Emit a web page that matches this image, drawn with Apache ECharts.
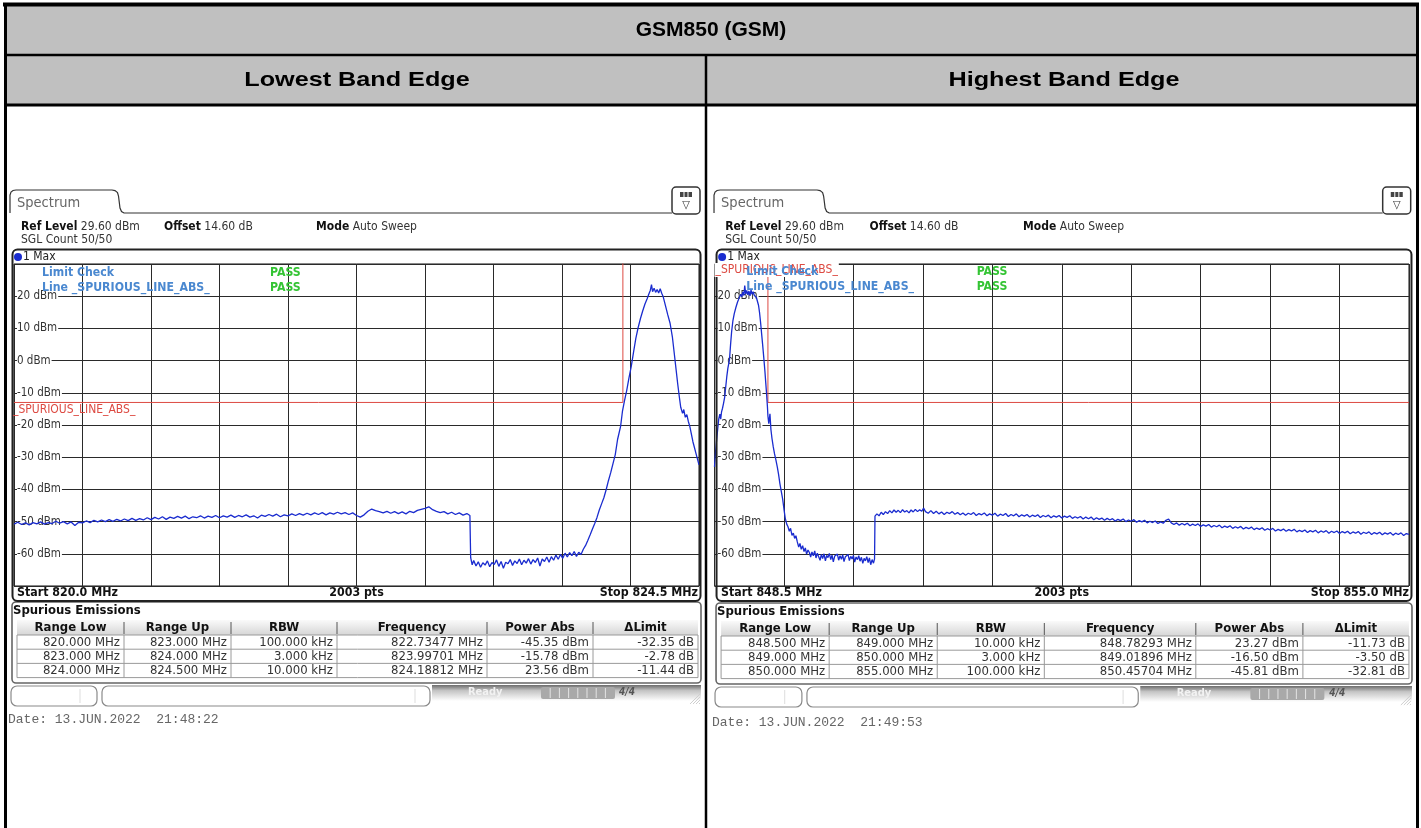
<!DOCTYPE html>
<html><head><meta charset="utf-8">
<script src="https://cdn.jsdelivr.net/npm/echarts@6/dist/echarts.min.js"></script>
<style>html,body{margin:0;padding:0;background:#fff;overflow:hidden}#c{width:1421px;height:828px}</style>
</head><body><div id="c"></div>
<script>
// ---------------- data ----------------
const mainTitle = 'GSM850 (GSM)';
const panelTitles = ['Lowest Band Edge', 'Highest Band Edge'];
const yTickValues = [20, 10, 0, -10, -20, -30, -40, -50, -60];
const yTickLabels = ['20 dBm', '10 dBm', '0 dBm', '-10 dBm', '-20 dBm', '-30 dBm', '-40 dBm', '-50 dBm', '-60 dBm'];
const lowRange = [820.0, 824.5];
const highRange = [848.5, 855.0];
const headerInfo = ['Ref Level', '29.60 dBm', 'Offset', '14.60 dB', 'Mode', 'Auto Sweep', 'SGL Count 50/50'];
const limitTexts = ['Limit Check', 'Line _SPURIOUS_LINE_ABS_', 'PASS', '_SPURIOUS_LINE_ABS_'];
const lowFooter = ['Start 820.0 MHz', '2003 pts', 'Stop 824.5 MHz'];
const highFooter = ['Start 848.5 MHz', '2003 pts', 'Stop 855.0 MHz'];
const tableHeaders = ['Range Low', 'Range Up', 'RBW', 'Frequency', 'Power Abs', '\u0394Limit'];
const lowTable = [
  ['820.000 MHz', '823.000 MHz', '100.000 kHz', '822.73477 MHz', '-45.35 dBm', '-32.35 dB'],
  ['823.000 MHz', '824.000 MHz', '3.000 kHz', '823.99701 MHz', '-15.78 dBm', '-2.78 dB'],
  ['824.000 MHz', '824.500 MHz', '10.000 kHz', '824.18812 MHz', '23.56 dBm', '-11.44 dB']
];
const highTable = [
  ['848.500 MHz', '849.000 MHz', '10.000 kHz', '848.78293 MHz', '23.27 dBm', '-11.73 dB'],
  ['849.000 MHz', '850.000 MHz', '3.000 kHz', '849.01896 MHz', '-16.50 dBm', '-3.50 dB'],
  ['850.000 MHz', '855.000 MHz', '100.000 kHz', '850.45704 MHz', '-45.81 dBm', '-32.81 dB']
];
const dates = ['Date: 13.JUN.2022  21:48:22', 'Date: 13.JUN.2022  21:49:53'];
const lowLimit = [[820.0, -13], [824.0, -13], [824.0, 35], [824.5, 35]];
const highLimit = [[848.5, 35], [849.0, 35], [849.0, -13], [855.0, -13]];

const lowTrace = [
[820.000,-50.8],[820.025,-50.2],[820.050,-50.9],[820.075,-50.4],[820.100,-51.0],[820.125,-50.3],[820.150,-50.7],[820.175,-50.1],
[820.200,-50.8],[820.225,-50.3],[820.250,-50.6],[820.275,-49.9],[820.300,-50.5],[820.325,-50.0],[820.350,-50.7],[820.375,-50.1],
[820.400,-51.2],[820.425,-50.2],[820.450,-50.4],[820.475,-49.8],[820.500,-50.3],[820.525,-49.6],[820.550,-50.1],[820.575,-49.5],
[820.600,-50.0],[820.625,-49.4],[820.650,-49.9],[820.675,-49.3],[820.700,-49.8],[820.725,-49.2],[820.750,-49.7],[820.775,-49.0],
[820.800,-49.6],[820.825,-49.1],[820.850,-49.5],[820.875,-48.8],[820.900,-49.4],[820.925,-48.7],[820.950,-49.2],[820.975,-48.5],
[821.000,-49.3],[821.025,-48.6],[821.050,-49.0],[821.075,-48.4],[821.100,-48.9],[821.125,-48.3],[821.150,-49.1],[821.175,-48.5],
[821.200,-48.8],[821.225,-48.2],[821.250,-48.9],[821.275,-48.3],[821.300,-48.7],[821.325,-48.1],[821.350,-48.8],[821.375,-48.2],
[821.400,-48.6],[821.425,-48.0],[821.450,-48.7],[821.475,-48.1],[821.500,-48.5],[821.525,-47.9],[821.550,-48.6],[821.575,-48.2],
[821.600,-48.9],[821.625,-48.0],[821.650,-48.4],[821.675,-47.8],[821.700,-48.3],[821.725,-47.7],[821.750,-48.5],[821.775,-47.9],
[821.800,-48.2],[821.825,-47.6],[821.850,-48.1],[821.875,-47.5],[821.900,-48.0],[821.925,-47.4],[821.950,-47.9],[821.975,-47.3],
[822.000,-47.8],[822.025,-47.2],[822.050,-47.9],[822.075,-47.3],[822.100,-47.7],[822.125,-47.1],[822.150,-47.6],[822.175,-47.2],
[822.200,-47.8],[822.225,-47.3],[822.250,-48.1],[822.275,-48.6],[822.300,-47.9],[822.325,-46.8],[822.350,-46.1],[822.375,-46.6],
[822.400,-46.9],[822.425,-47.3],[822.450,-46.8],[822.475,-47.4],[822.500,-46.9],[822.525,-47.5],[822.550,-47.0],[822.575,-47.6],
[822.600,-46.8],[822.625,-47.2],[822.650,-46.5],[822.675,-46.2],[822.700,-45.9],[822.725,-45.4],[822.750,-46.3],[822.775,-46.8],
[822.800,-47.2],[822.825,-46.9],[822.850,-47.6],[822.875,-47.1],[822.900,-47.8],[822.925,-47.3],[822.950,-48.0],[822.975,-47.5],
[822.995,-48.1],[823.000,-61.2],[823.010,-63.4],[823.020,-62.1],[823.035,-63.8],[823.050,-62.5],[823.065,-64.2],[823.080,-62.8],
[823.095,-63.5],[823.110,-62.2],[823.125,-64.0],[823.140,-62.7],[823.155,-63.3],[823.170,-61.9],[823.185,-63.9],[823.200,-62.4],
[823.215,-64.5],[823.230,-62.6],[823.245,-63.1],[823.260,-61.8],[823.275,-63.6],[823.290,-62.2],[823.305,-63.0],[823.320,-61.6],
[823.335,-63.4],[823.350,-62.0],[823.365,-62.9],[823.380,-61.5],[823.395,-63.2],[823.410,-61.8],[823.425,-62.7],[823.440,-61.3],
[823.455,-63.8],[823.470,-61.6],[823.485,-62.4],[823.500,-61.0],[823.515,-62.6],[823.530,-60.9],[823.545,-62.0],[823.560,-60.4],
[823.575,-61.7],[823.590,-60.2],[823.605,-61.4],[823.620,-59.8],[823.635,-61.0],[823.650,-59.6],[823.665,-60.6],[823.680,-59.3],
[823.695,-60.8],[823.710,-59.5],[823.725,-60.2],[823.740,-58.6],[823.755,-57.4],[823.770,-55.8],[823.785,-54.1],[823.800,-52.3],
[823.815,-50.6],[823.830,-48.7],[823.845,-46.4],[823.860,-44.5],[823.875,-42.6],[823.890,-40.1],[823.905,-37.3],[823.920,-34.8],
[823.935,-32.0],[823.950,-29.2],[823.965,-24.5],[823.975,-23.9],[823.985,-20.4],[823.997,-15.8],[824.010,-12.6],[824.025,-9.3],
[824.040,-5.4],[824.055,-1.8],[824.070,2.6],[824.085,6.9],[824.100,10.2],[824.115,13.0],[824.130,15.4],[824.145,17.6],
[824.160,19.3],[824.170,20.6],[824.180,21.8],[824.188,23.6],[824.195,21.4],[824.205,22.5],[824.215,21.2],[824.225,22.1],
[824.235,21.0],[824.245,22.3],[824.255,20.9],[824.265,19.8],[824.280,17.0],[824.295,14.2],[824.310,11.6],[824.325,7.4],
[824.340,1.2],[824.350,-3.0],[824.360,-7.2],[824.370,-11.0],[824.380,-14.5],[824.392,-16.4],[824.400,-15.2],[824.410,-17.6],
[824.420,-16.8],[824.430,-18.9],[824.440,-20.5],[824.450,-22.8],[824.460,-25.2],[824.470,-27.0],[824.480,-28.8],[824.490,-30.6],
[824.500,-32.4]
];

const highTrace = [
[848.500,-33.0],[848.510,-28.4],[848.520,-24.6],[848.530,-21.2],[848.540,-18.1],[848.550,-16.6],[848.558,-18.2],[848.566,-15.9],
[848.575,-14.8],[848.585,-13.2],[848.595,-11.4],[848.605,-8.2],[848.615,-5.0],[848.625,-2.4],[848.640,0.2],[848.650,4.8],
[848.660,8.9],[848.672,12.3],[848.685,14.6],[848.700,16.5],[848.715,18.1],[848.730,19.4],[848.745,20.6],[848.755,19.8],
[848.765,21.3],[848.775,20.2],[848.783,23.3],[848.792,20.7],[848.802,21.8],[848.812,20.4],[848.822,21.6],[848.832,20.1],
[848.842,21.9],[848.852,20.6],[848.862,21.4],[848.872,20.3],[848.882,20.9],[848.892,19.6],[848.902,19.0],[848.912,17.2],
[848.922,14.8],[848.932,11.6],[848.942,8.0],[848.952,4.4],[848.962,0.6],[848.972,-3.4],[848.980,-7.0],[848.988,-10.6],
[848.995,-14.1],[849.000,-17.2],[849.008,-19.6],[849.019,-16.5],[849.028,-21.4],[849.038,-24.2],[849.050,-26.8],[849.062,-29.0],
[849.075,-30.9],[849.088,-33.1],[849.100,-35.4],[849.112,-38.2],[849.125,-40.6],[849.138,-43.0],[849.150,-46.1],[849.162,-48.9],
[849.175,-50.7],[849.188,-51.6],[849.200,-53.0],[849.212,-52.1],[849.225,-54.3],[849.238,-53.6],[849.250,-55.2],[849.262,-54.4],
[849.275,-56.3],[849.288,-57.9],[849.300,-56.8],[849.312,-58.6],[849.325,-57.5],[849.338,-59.3],[849.350,-58.2],[849.362,-60.1],
[849.375,-58.8],[849.388,-59.6],[849.400,-61.0],[849.412,-59.4],[849.425,-60.6],[849.438,-59.1],[849.450,-61.3],[849.462,-59.8],
[849.475,-60.4],[849.488,-62.0],[849.500,-60.2],[849.512,-61.5],[849.525,-60.0],[849.538,-62.2],[849.550,-60.5],[849.562,-61.2],
[849.575,-59.9],[849.588,-61.8],[849.600,-60.4],[849.612,-62.5],[849.625,-60.7],[849.638,-61.3],[849.650,-60.1],[849.662,-62.0],
[849.675,-60.6],[849.688,-61.7],[849.700,-60.3],[849.712,-62.4],[849.725,-60.9],[849.738,-61.5],[849.750,-60.2],[849.762,-62.1],
[849.775,-60.8],[849.788,-61.6],[849.800,-60.5],[849.812,-62.6],[849.825,-61.0],[849.838,-61.8],[849.850,-60.6],[849.862,-62.3],
[849.875,-61.1],[849.888,-63.0],[849.900,-61.4],[849.912,-62.2],[849.925,-60.9],[849.938,-62.7],[849.950,-61.3],[849.962,-63.4],
[849.975,-61.8],[849.988,-62.9],[849.998,-61.6],[850.002,-48.3],[850.020,-47.6],[850.040,-48.2],[850.060,-47.1],[850.080,-47.8],
[850.100,-46.9],[850.120,-47.5],[850.140,-46.6],[850.160,-47.3],[850.180,-46.4],[850.200,-47.1],[850.220,-46.5],[850.240,-47.2],
[850.260,-46.3],[850.280,-47.0],[850.300,-46.6],[850.320,-47.3],[850.340,-46.4],[850.360,-47.0],[850.380,-46.2],[850.400,-46.9],
[850.420,-46.3],[850.440,-46.8],[850.457,-45.8],[850.475,-46.9],[850.500,-47.4],[850.525,-46.6],[850.550,-47.5],[850.575,-46.8],
[850.600,-47.6],[850.625,-47.0],[850.650,-47.8],[850.675,-47.1],[850.700,-47.5],[850.725,-46.9],[850.750,-47.7],[850.775,-47.2],
[850.800,-47.9],[850.825,-47.3],[850.850,-48.0],[850.875,-47.4],[850.900,-47.8],[850.925,-47.2],[850.950,-48.1],[850.975,-47.5],
[851.000,-47.9],[851.025,-47.3],[851.050,-48.2],[851.075,-47.6],[851.100,-48.0],[851.125,-47.4],[851.150,-48.3],[851.175,-47.7],
[851.200,-48.1],[851.225,-47.5],[851.250,-48.4],[851.275,-47.8],[851.300,-48.2],[851.325,-47.6],[851.350,-48.5],[851.375,-47.9],
[851.400,-48.3],[851.425,-47.8],[851.450,-48.6],[851.475,-48.0],[851.500,-48.4],[851.525,-47.9],[851.550,-48.7],[851.575,-48.1],
[851.600,-48.5],[851.625,-48.0],[851.650,-48.8],[851.675,-48.2],[851.700,-48.6],[851.725,-48.1],[851.750,-48.9],[851.775,-48.3],
[851.800,-48.7],[851.825,-48.2],[851.850,-49.0],[851.875,-48.5],[851.900,-48.9],[851.925,-48.4],[851.950,-49.2],[851.975,-48.6],
[852.000,-49.1],[852.025,-48.6],[852.050,-49.4],[852.075,-48.8],[852.100,-49.3],[852.125,-48.9],[852.150,-49.6],[852.175,-49.0],
[852.200,-49.5],[852.225,-49.1],[852.250,-49.8],[852.275,-49.3],[852.300,-49.7],[852.325,-49.2],[852.350,-50.0],[852.375,-49.5],
[852.400,-49.9],[852.425,-49.4],[852.450,-50.2],[852.475,-49.7],[852.500,-50.1],[852.525,-49.6],[852.550,-50.4],[852.575,-49.9],
[852.600,-50.3],[852.625,-49.8],[852.650,-50.6],[852.675,-50.1],[852.700,-50.5],[852.725,-49.6],[852.750,-49.2],[852.775,-50.4],
[852.800,-50.9],[852.825,-50.4],[852.850,-51.1],[852.875,-50.6],[852.900,-51.0],[852.925,-50.5],[852.950,-51.3],[852.975,-50.8],
[853.000,-51.2],[853.025,-50.7],[853.050,-51.5],[853.075,-51.0],[853.100,-51.4],[853.125,-50.9],[853.150,-51.7],[853.175,-51.2],
[853.200,-51.6],[853.225,-51.1],[853.250,-51.9],[853.275,-51.4],[853.300,-51.8],[853.325,-51.3],[853.350,-52.1],[853.375,-51.6],
[853.400,-52.0],[853.425,-51.5],[853.450,-52.3],[853.475,-51.8],[853.500,-52.2],[853.525,-51.7],[853.550,-52.5],[853.575,-52.0],
[853.600,-52.4],[853.625,-51.9],[853.650,-52.7],[853.675,-52.2],[853.700,-52.6],[853.725,-52.1],[853.750,-52.9],[853.775,-52.4],
[853.800,-52.8],[853.825,-52.3],[853.850,-53.0],[853.875,-52.5],[853.900,-52.9],[853.925,-52.4],[853.950,-53.2],[853.975,-52.7],
[854.000,-53.1],[854.025,-52.6],[854.050,-53.4],[854.075,-52.8],[854.100,-53.2],[854.125,-52.7],[854.150,-53.5],[854.175,-52.9],
[854.200,-53.3],[854.225,-52.8],[854.250,-53.6],[854.275,-53.0],[854.300,-53.4],[854.325,-52.9],[854.350,-53.7],[854.375,-53.1],
[854.400,-53.5],[854.425,-53.0],[854.450,-53.8],[854.475,-53.2],[854.500,-53.6],[854.525,-53.1],[854.550,-53.9],[854.575,-53.3],
[854.600,-53.7],[854.625,-53.2],[854.650,-54.0],[854.675,-53.4],[854.700,-53.8],[854.725,-53.3],[854.750,-54.1],[854.775,-53.5],
[854.800,-53.9],[854.825,-53.4],[854.850,-54.2],[854.875,-53.6],[854.900,-54.0],[854.925,-53.5],[854.950,-54.3],[854.975,-53.7],
[855.000,-54.0]
];

// ---------------- layout / style ----------------
const F = "'DejaVu Sans Condensed','DejaVu Sans',sans-serif";
const TRACE = '#1a2ccf', LIMIT = '#dd4a42', LCHK = '#4a88d0', PASSC = '#34c434';
const panels = [
  {x0: 8, x1: 703, gl: 14, gr: 699, dy: 0, dateY: 720, range: lowRange, trace: lowTrace, limit: lowLimit,
   table: lowTable, footer: lowFooter, date: dates[0], labelTop: false},
  {x0: 712, x1: 1414, gl: 714.5, gr: 1409, dy: 1, dateY: 723, range: highRange, trace: highTrace, limit: highLimit,
   table: highTable, footer: highFooter, date: dates[1], labelTop: true}
];
const GT = 264, GH = 322;
function X(p, v) { return p.x0 + (v - 8) * (p.x1 - p.x0) / 695; }
function vgrad(stops) {
  return {type: 'linear', x: 0, y: 0, x2: 0, y2: 1, colorStops: stops.map(s => ({offset: s[0], color: s[1]}))};
}

function T(x, y, text, o) {
  o = o || {};
  const a = o.a || 'left';
  const st = {text: text, fill: o.c || '#222', font: o.f || ('12px ' + F), textAlign: a, align: a,
    textVerticalAlign: 'middle', verticalAlign: 'middle'};
  if (o.bg) { st.backgroundColor = o.bg; st.padding = o.pad || [0, 1]; }
  if (o.rich) st.rich = o.rich;
  return {type: 'text', x: x, y: y, z: o.z == null ? 6 : o.z, scaleX: o.sx || 1, style: st, silent: true};
}
function R(x, y, w, h, st, z, r) {
  return {type: 'rect', z: z == null ? 1 : z, shape: {x: x, y: y, width: w, height: h, r: r || 0}, style: st, silent: true};
}
function L(x1, y1, x2, y2, c, w, z) {
  return {type: 'line', z: z == null ? 2 : z, shape: {x1: x1, y1: y1, x2: x2, y2: y2}, style: {stroke: c, lineWidth: w}, silent: true};
}
function PL(pts, c, w, z) {
  return {type: 'polyline', z: z == null ? 2 : z, shape: {points: pts}, style: {stroke: c, lineWidth: w, fill: null}, silent: true};
}

const chart = echarts.init(document.getElementById('c'), null, {renderer: 'canvas'});

const labelMap = {};
yTickValues.forEach((v, i) => { labelMap[v] = yTickLabels[i]; });

const grids = [], xAxes = [], yAxes = [], series = [];
panels.forEach((p, i) => {
  grids.push({left: p.gl, top: GT, width: p.gr - p.gl, height: GH, show: true, borderColor: '#111', borderWidth: 1, backgroundColor: 'transparent', z: 1});
  xAxes.push({gridIndex: i, type: 'value', min: 0, max: 10, interval: 1, position: 'bottom', axisLine: {show: false}, axisTick: {show: false},
    axisLabel: {show: false}, splitLine: {show: true, lineStyle: {color: '#2a2a2a', width: 1}}, z: 1});
  xAxes.push({gridIndex: i, type: 'value', min: p.range[0], max: p.range[1], position: 'bottom', axisLine: {show: false}, axisTick: {show: false},
    axisLabel: {show: false}, splitLine: {show: false}});
  yAxes.push({gridIndex: i, type: 'value', min: -70, max: 30, interval: 10, position: 'left', axisLine: {show: false}, axisTick: {show: false},
    axisLabel: {show: false}, splitLine: {show: true, lineStyle: {color: '#2a2a2a', width: 1}}, z: 1});
  yAxes.push({gridIndex: i, type: 'value', min: -70, max: 30, interval: 10, position: 'left', offset: 0,
    axisLine: {show: false, onZero: false}, axisTick: {show: false}, splitLine: {show: false}, z: 2,
    axisLabel: {show: true, inside: true, margin: 3, color: '#333', fontSize: 11.5, fontFamily: F,
      backgroundColor: '#fff', padding: [0, 1, 0, 0],
      formatter: v => labelMap[v] || ''}});
  series.push({type: 'line', xAxisIndex: 2 * i + 1, yAxisIndex: 2 * i, data: p.limit, showSymbol: false, symbol: 'none',
    lineStyle: {color: LIMIT, width: 1}, z: 3, animation: false, silent: true});
  series.push({type: 'line', xAxisIndex: 2 * i + 1, yAxisIndex: 2 * i, data: p.trace, showSymbol: false, symbol: 'none',
    lineStyle: {color: TRACE, width: 1.3}, z: 4, animation: false, silent: true});
});

chart.setOption({animation: false, backgroundColor: '#fff', grid: grids, xAxis: xAxes, yAxis: yAxes, series: series});

// ---------------- graphic chrome ----------------
const G = [];
G.push(R(5, 4, 1412, 101, {fill: '#c0c0c0'}, 0));
G.push(L(3, 4.5, 1419, 4.5, '#000', 4, 3));
G.push(L(5.5, 3, 5.5, 828, '#000', 3, 3));
G.push(L(1417.5, 3, 1417.5, 828, '#000', 3, 3));
G.push(L(5, 55, 1417, 55, '#000', 2.5, 3));
G.push(L(5, 105, 1417, 105, '#000', 3, 3));
G.push(L(706, 55, 706, 828, '#000', 2.5, 3));
G.push(T(711, 30, mainTitle, {a: 'center', c: '#000', f: "bold 21px 'Liberation Sans', Arial, sans-serif"}));
G.push(T(357, 80, panelTitles[0], {a: 'center', c: '#000', sx: 1.2, f: "bold 21px 'Liberation Sans', Arial, sans-serif"}));
G.push(T(1064, 80, panelTitles[1], {a: 'center', c: '#000', sx: 1.2, f: "bold 21px 'Liberation Sans', Arial, sans-serif"}));

panels.forEach((p, i) => {
  const x = v => X(p, v);
  const dy = p.dy;
  // tab
  G.push(PL([[x(10), 213], [x(10), 195], [x(11), 192], [x(13), 190.5], [x(16), 190], [x(112), 190], [x(115), 190.6], [x(117.5), 192.5],
    [x(118.5), 196], [x(120), 208], [x(121.5), 211.5], [x(124), 213], [x(672), 213]], '#333', 1.2));
  G.push(T(x(17), 203, 'Spectrum', {c: '#666', f: '14.5px ' + F}));
  // icon
  G.push(R(x(672), 187, 28, 27, {fill: '#fff', stroke: '#333', lineWidth: 1.5}, 2, 4));
  G.push(R(x(680), 192, 12, 5, {fill: '#444'}, 3));
  G.push(L(x(684), 192, x(684), 197, '#fff', 1, 4));
  G.push(L(x(688), 192, x(688), 197, '#fff', 1, 4));
  G.push(T(x(686), 205, '\u25BD', {a: 'center', c: '#333', f: '11px ' + F}));
  // header info
  const rich = {b: {font: 'bold 12px ' + F, fill: '#111', color: '#111'}, n: {font: '12px ' + F, fill: '#333', color: '#333'}};
  G.push(T(x(21), 227, `{b|${headerInfo[0]}} {n|${headerInfo[1]}}`, {rich: rich}));
  G.push(T(x(164), 227, `{b|${headerInfo[2]}} {n|${headerInfo[3]}}`, {rich: rich}));
  G.push(T(x(316), 227, `{b|${headerInfo[4]}} {n|${headerInfo[5]}}`, {rich: rich}));
  G.push(T(x(21), 240, headerInfo[6], {c: '#333'}));
  // trace box
  G.push(R(x(12.5), 249.5, x(700.5) - x(12.5), 351.5, {fill: 'none', stroke: '#222', lineWidth: 2}, 5, 5));
  G.push({type: 'circle', z: 6, shape: {cx: x(18), cy: 257, r: 4}, style: {fill: '#1a2ccf'}, silent: true});
  G.push(T(x(23), 257, '1 Max', {c: '#222'}));
  // footer row
  G.push(T(x(17), 593, p.footer[0], {c: '#111', f: 'bold 12.3px ' + F}));
  G.push(T((p.gl + p.gr) / 2, 593, p.footer[1], {a: 'center', c: '#111', f: 'bold 12.3px ' + F}));
  G.push(T(x(698), 593, p.footer[2], {a: 'right', c: '#111', f: 'bold 12.3px ' + F}));
  // limit texts
  const ly = p.labelTop ? 1 : 0;
  if (p.labelTop) G.push(T(p.gl, 270, limitTexts[3], {c: LIMIT, bg: '#fff', pad: [1, 1], z: 7}));
  G.push(T(x(42), 273 - ly, limitTexts[0], {c: LCHK, f: 'bold 12.2px ' + F, z: 8}));
  G.push(T(x(42), 288 - ly, limitTexts[1], {c: LCHK, f: 'bold 12.2px ' + F, z: 8}));
  G.push(T(x(270), 273 - ly, limitTexts[2], {c: PASSC, f: 'bold 12.2px ' + F, z: 8}));
  G.push(T(x(270), 288 - ly, limitTexts[2], {c: PASSC, f: 'bold 12.2px ' + F, z: 8}));
  if (!p.labelTop) {
    const pt = chart.convertToPixel({xAxisIndex: 2 * i + 1, yAxisIndex: 2 * i}, [p.range[0], -13]);
    G.push(T(pt[0] - 1, pt[1] + 7, limitTexts[3], {c: LIMIT, z: 7}));
  }
  // spurious emissions panel
  G.push(R(x(12), 602 + dy, x(701) - x(12), 81, {fill: '#fff', stroke: '#666', lineWidth: 1.6}, 1, 4));
  G.push(T(x(13), 611 + dy, 'Spurious Emissions', {c: '#111', f: 'bold 13px ' + F}));
  const cols = [17, 124, 231, 337, 487, 593, 698].map(x);
  const hy = 620 + dy, hh = 15, rh = 14.2;
  G.push(R(cols[0], hy, cols[6] - cols[0], hh, {fill: vgrad([[0, '#fafafa'], [1, '#d6d6d6']])}, 2));
  tableHeaders.forEach((h, c) => {
    G.push(T((cols[c] + cols[c + 1]) / 2, hy + hh / 2 + 0.5, h, {a: 'center', c: '#111', f: 'bold 13px ' + F}));
    if (c > 0) G.push(L(cols[c], hy + 2, cols[c], hy + hh - 1, '#555', 1, 3));
  });
  const ty = hy + hh;
  G.push(R(cols[0], ty, cols[6] - cols[0], rh * 3, {fill: '#fff', stroke: '#9a9a9a', lineWidth: 1}, 2));
  p.table.forEach((row, r) => {
    const yy = ty + rh * r;
    if (r > 0) G.push(L(cols[0], yy, cols[6], yy, '#9a9a9a', 1, 3));
    row.forEach((v, c) => {
      G.push(T(cols[c + 1] - 4, yy + rh / 2 + 0.5, v, {a: 'right', c: '#333', f: '13px ' + F}));
    });
  });
  for (let c = 1; c < 6; c++) G.push(L(cols[c], ty, cols[c], ty + rh * 3, '#9a9a9a', 1, 3));
  // status bar
  const sy = 686 + dy;
  G.push(R(x(11), sy, x(97) - x(11), 20, {fill: '#fff', stroke: '#8a8a8a', lineWidth: 1.2}, 2, 6));
  G.push(L(x(80), sy + 3, x(80), sy + 17, '#ddd', 1, 3));
  G.push(R(x(102), sy, x(430) - x(102), 20, {fill: '#fff', stroke: '#8a8a8a', lineWidth: 1.2}, 2, 6));
  G.push(L(x(415), sy + 3, x(415), sy + 17, '#ddd', 1, 3));
  G.push(R(x(432), sy - 1, x(701) - x(432), 16, {fill: vgrad([[0, '#6c6c6c'], [0.35, '#c4c4c4'], [1, '#ffffff']])}, 2));
  G.push(T(x(468), sy + 6, 'Ready', {c: '#f2f2f2', f: 'bold 11px ' + F}));
  G.push(R(x(541), sy + 1, 74, 12, {fill: '#a9a9a9'}, 3, 2));
  for (let k = 1; k < 8; k++) G.push(L(x(541) + k * 9.2, sy + 2, x(541) + k * 9.2, sy + 12, '#e4e4e4', 1, 4));
  G.push(T(x(627), sy + 6, '4/4', {a: 'center', c: '#555', f: 'italic bold 10px ' + F}));
  for (let k = 0; k < 4; k++) G.push(L(x(690) + k * 3, sy + 18, x(700), sy + 8 + k * 3, '#cfcfcf', 1, 3));
  // date
  G.push(T(x(8), p.dateY, p.date, {c: '#666', f: "13px 'Liberation Mono', 'DejaVu Sans Mono', monospace"}));
});

chart.setOption({graphic: {elements: G}});
</script>
</body></html>
